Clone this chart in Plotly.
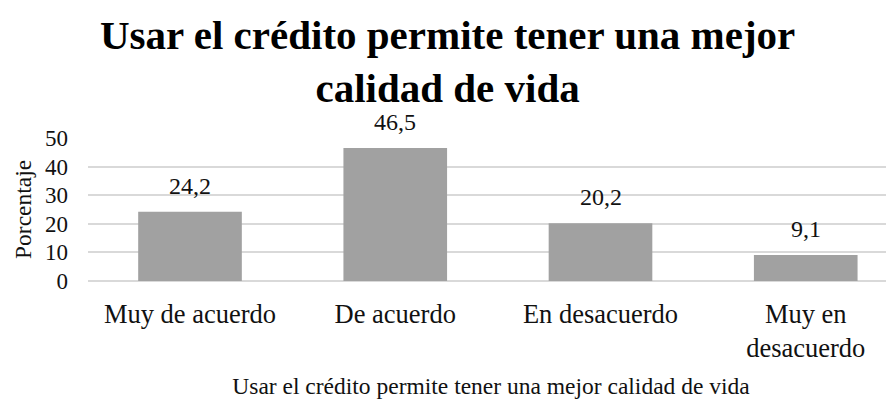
import plotly.graph_objects as go

# Datos de la gráfica
categorias = ['Muy de acuerdo', 'De acuerdo', 'En desacuerdo', 'Muy en<br>desacuerdo']
porcentajes = [24.2, 46.5, 20.2, 9.1]
ticks_y = [0, 10, 20, 30, 40, 50]

TITULO = 'Usar el crédito permite tener una mejor<br>calidad de vida'
TITULO_X = 'Usar el crédito permite tener una mejor calidad de vida'

FUENTE = 'Liberation Serif, Times New Roman, serif'
GRIS_BARRA = '#a1a1a1'
GRIS_REJILLA = '#d9d9d9'

# La página HTML añade 8 px de margen al cuerpo: la figura se reduce para que quepa
ANCHO, ALTO = 886, 393
IZQ, ARRIBA, ABAJO = 80, 130, 120
ANCHO_PLOT = ANCHO - IZQ
ALTO_PLOT = ALTO - ARRIBA - ABAJO

fig = go.Figure(
    go.Bar(
        x=categorias,
        y=porcentajes,
        width=0.505,
        marker=dict(color=GRIS_BARRA, line=dict(width=0)),
        hovertemplate='%{x}: %{y:.1f}<extra></extra>',
    )
)

# Etiquetas de valor encima de cada barra
for cat, val in zip(categorias, porcentajes):
    fig.add_annotation(
        x=cat, y=val,
        text=f'{val:.1f}'.replace('.', ','),
        showarrow=False,
        yanchor='bottom',
        yshift=11,
        font=dict(size=24, family=FUENTE, color='#111111'),
    )

# Título principal (dos líneas)
fig.add_annotation(
    text=f'<b>{TITULO}</b>',
    xref='paper', yref='paper',
    x=(439 - IZQ) / ANCHO_PLOT, y=1 + (ARRIBA - 2) / ALTO_PLOT,
    xanchor='center', yanchor='top',
    showarrow=False,
    font=dict(size=41, family=FUENTE, color='#000000'),
)

# Título del eje Y (vertical)
fig.add_annotation(
    text='Porcentaje',
    xref='paper', yref='paper',
    x=(15 - IZQ) / ANCHO_PLOT, y=(273 - 202) / ALTO_PLOT,
    xanchor='center', yanchor='middle',
    textangle=-90,
    showarrow=False,
    font=dict(size=23.5, family=FUENTE, color='#111111'),
)

fig.update_layout(
    width=ANCHO,
    height=ALTO,
    separators=',.',
    paper_bgcolor='white',
    plot_bgcolor='white',
    font=dict(family=FUENTE, color='#111111'),
    margin=dict(l=IZQ, r=0, t=ARRIBA, b=ABAJO, autoexpand=False),
    showlegend=False,
)

fig.update_xaxes(
    range=[-0.497, 3.43],
    automargin=False,
    showgrid=False,
    showline=False,
    tickfont=dict(size=26.5),
    ticklabelstandoff=14,
    title=dict(text=TITULO_X, font=dict(size=23.5), standoff=15),
)

fig.update_yaxes(
    range=[0, 50],
    automargin=False,
    tickvals=ticks_y,
    showgrid=True,
    gridcolor=GRIS_REJILLA,
    gridwidth=2,
    zeroline=True,
    zerolinecolor=GRIS_REJILLA,
    zerolinewidth=2,
    showline=False,
    tickfont=dict(size=23),
    ticklabelstandoff=19,
)

fig.write_html('out.html')
